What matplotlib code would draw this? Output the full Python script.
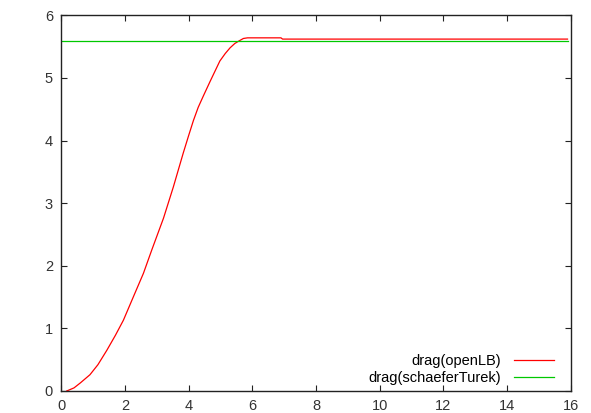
import matplotlib
matplotlib.use('Agg')
import matplotlib.pyplot as plt

# drag curves
t_openlb = [0.17, 0.4, 0.6, 0.9, 1.15, 1.43, 1.7, 1.95, 2.26, 2.58, 2.84, 3.21,
            3.52, 3.83, 4.0, 4.15, 4.3, 4.46, 4.67, 4.98, 5.15, 5.3, 5.45, 5.58,
            5.72, 5.85, 6.9, 6.95, 15.9]
drag_openlb = [0.0, 0.05, 0.13, 0.26, 0.42, 0.65, 0.89, 1.13, 1.50, 1.88, 2.25, 2.76,
               3.26, 3.80, 4.08, 4.32, 4.53, 4.71, 4.94, 5.27, 5.39, 5.48, 5.55, 5.59,
               5.63, 5.64, 5.64, 5.62, 5.62]
t_ref = [0.0, 15.9]
drag_ref = [5.59, 5.59]

xticks = [0, 2, 4, 6, 8, 10, 12, 14, 16]
yticks = [0, 1, 2, 3, 4, 5, 6]

plt.rcParams['font.family'] = 'Liberation Sans'
plt.rcParams['font.size'] = 10.5

fig = plt.figure(figsize=(5.91, 4.13), dpi=100)
ax = fig.add_axes([61.3/591, 1-391/413, (570.7-61.3)/591, (391-15.3)/413])

ax.plot(t_openlb, drag_openlb, color='#ff0000', lw=0.9, label='drag(openLB)')
ax.plot(t_ref, drag_ref, color='#00c800', lw=0.9, label='drag(schaeferTurek)')

ax.set_xlim(0, 16)
ax.set_ylim(0, 6)
ax.set_xticks(xticks)
ax.set_yticks(yticks)
ax.tick_params(direction='in', top=True, right=True, length=4, width=0.8,
               colors='#222222', labelcolor='#333333', pad=6)
for s in ax.spines.values():
    s.set_linewidth(1.0)
    s.set_color('#222222')

ax.legend(loc='lower right', bbox_to_anchor=(0.979, 0.0), frameon=False,
          markerfirst=False, handlelength=2.75, handletextpad=0.9,
          labelspacing=0.2, borderaxespad=0.0)

fig.savefig('out.png', dpi=100)
